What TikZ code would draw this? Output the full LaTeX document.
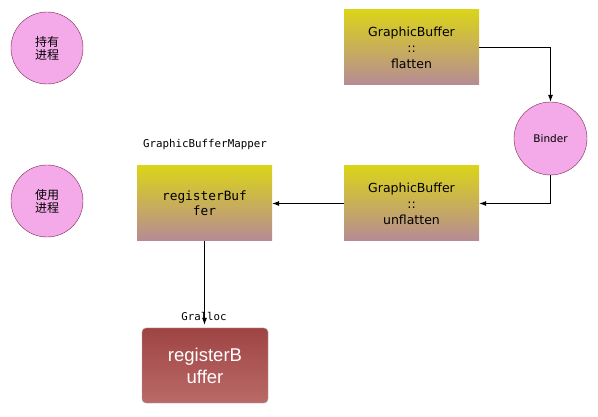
\documentclass[tikz,border=0pt]{standalone}
\usepackage{fontspec}
\setmainfont{DejaVu Sans}
\setmonofont{DejaVu Sans Mono}
\newfontfamily\cjkfont{Noto Sans CJK SC}
\newfontfamily\arialfont{Liberation Sans}
\usepackage{xcolor}
\usepackage{tikz}
\usetikzlibrary{arrows.meta}

\definecolor{bufTop}{RGB}{218,212,26}
\definecolor{bufMid}{RGB}{200,178,84}
\definecolor{bufBot}{RGB}{182,138,150}
\definecolor{procFill}{RGB}{244,170,232}
\definecolor{procLine}{RGB}{130,35,85}
\definecolor{hwTop}{RGB}{158,68,68}
\definecolor{hwBot}{RGB}{186,106,104}

\begin{document}
\begin{tikzpicture}[x=1pt, y=-1pt,
  procnode/.style={circle, draw=procLine, fill=procFill, minimum size=72pt, inner sep=0pt, align=center},
  bufnode/.style={rectangle, minimum width=135pt, minimum height=75pt, inner sep=0pt, align=center,
    top color=bufTop, middle color=bufMid, bottom color=bufBot},
  hwnode/.style={rectangle, rounded corners=4pt, draw=black!35, minimum width=126pt, minimum height=75pt,
    inner sep=0pt, align=center, top color=hwTop, bottom color=hwBot, text=white},
  flow/.style={-{Latex[length=7pt,width=5pt]}, black, line width=0.8pt}]
\useasboundingbox (0,0) rectangle (598,417);
% process legend circles
\node[procnode, font=\cjkfont\fontsize{12}{13}\selectfont] (hold) at (47,48) {持有\\进程};
\node[procnode, font=\cjkfont\fontsize{12}{13}\selectfont] (use) at (47,201) {使用\\进程};
% GraphicBuffer side
\node[bufnode, font=\fontsize{12.5}{16}\selectfont] (flatten) at (411.5,47.5) {GraphicBuffer\\::\\flatten};
\node[procnode, minimum size=73pt, font=\fontsize{10.5}{12}\selectfont] (binder) at (550.5,138.5) {Binder};
\node[bufnode, font=\fontsize{12.5}{16}\selectfont] (unflatten) at (411.5,203.5) {GraphicBuffer\\::\\unflatten};
% mapper and gralloc
\node[font=\ttfamily\fontsize{10.8}{12}\selectfont] (mapperlabel) at (205,145) {GraphicBufferMapper};
\node[bufnode, font=\ttfamily\fontsize{12.8}{15}\selectfont] (mapper) at (204.5,203.5) {registerBuf\\fer};
\node[font=\ttfamily\fontsize{10.7}{12}\selectfont] (grallocl) at (204,316) {Gralloc};
\node[hwnode, font=\arialfont\fontsize{18.5}{22}\selectfont] (gralloc) at (205,365.5) {registerB\\uffer};
% connectors
\draw[flow] (flatten.east) -| (binder.north);
\draw[flow] (binder.south) |- (unflatten.east);
\draw[flow] (unflatten.west) -- (mapper.east);
\draw[flow, shorten >=3pt] (mapper.south) -- (mapper.south |- gralloc.north);
\end{tikzpicture}
\end{document}
